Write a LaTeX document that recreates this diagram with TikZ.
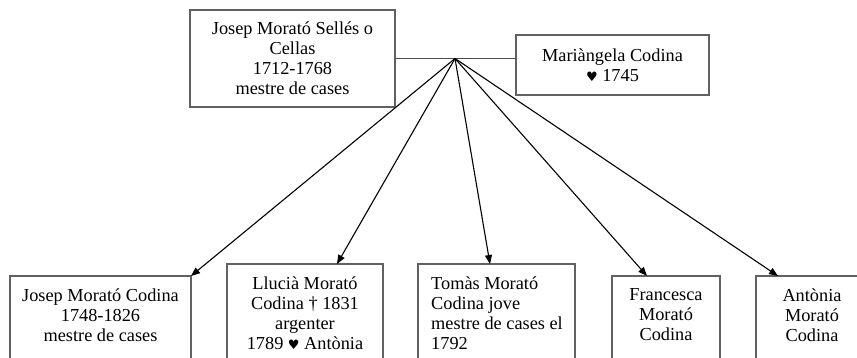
\documentclass[tikz,border=0pt]{standalone}
\usepackage{fontspec}
\setmainfont{Liberation Serif}
\newfontfamily\heartfont{DejaVu Sans}
\usetikzlibrary{arrows.meta}
\newcommand{\hrt}{{\heartfont\fontsize{13}{13}\selectfont ♥}}
\begin{document}
\begin{tikzpicture}[x=1pt,y=-1pt,
  person/.style={draw=black!62, line width=1.5pt, inner sep=0pt, outer sep=0pt,
    anchor=north west, align=center, font=\fontsize{18.3}{20}\selectfont},
  txt/.style={inner sep=0pt, anchor=north, align=center,
    font=\fontsize{18.3}{20}\selectfont},
  child/.style={-{Triangle[length=9pt,width=7pt]}, line width=1.1pt, black},
  tie/.style={line width=1.2pt, draw=black!70}
]
\useasboundingbox (0,0) rectangle (857,357);
\clip (0,0) rectangle (857,357);
\fill[white] (0,0) rectangle (857,357);

% parents
\node[person, minimum width=205pt, minimum height=97pt] (p) at (190,10)
  {Josep Morató Sellés o\\Cellas\\1712-1768\\mestre de cases};
\node[person, minimum width=193pt, minimum height=60pt] (r) at (516,35)
  {Mariàngela Codina\\\hrt\ 1745};

% marriage line and the point the children hang from
\draw[tie] (p.east) -- (p.east -| r.west);
\coordinate (j) at (455,58.5);

% children boxes (they run past the lower edge)
\node[person, minimum width=181pt, minimum height=120pt] (b1) at (10,276) {};
\node[person, minimum width=156pt, minimum height=130pt] (b2) at (227,264) {};
\node[person, minimum width=157pt, minimum height=130pt] (b3) at (418,264) {};
\node[person, minimum width=108pt, minimum height=120pt] (b4) at (612,276) {};
\node[person, minimum width=112pt, minimum height=120pt] (b5) at (756,276) {};

% children texts
\node[txt] (t1) at ([yshift=-12.5pt]b1.north)
  {Josep Morató Codina\\1748-1826\\mestre de cases};
\node[txt] (t2) at ([yshift=-12.5pt]b2.north)
  {Llucià Morató\\Codina † 1831\\argenter\\1789 \hrt\ Antònia};
\node[txt, anchor=north west, align=left] (t3) at ([xshift=13pt,yshift=-12.5pt]b3.north west)
  {Tomàs Morató\\Codina jove\\mestre de cases el\\1792};
\node[txt] (t4) at ([yshift=-12.5pt]b4.north)
  {Francesca\\Morató\\Codina};
\node[txt] (t5) at ([yshift=-12.5pt]b5.north)
  {Antònia\\Morató\\Codina};

% descent arrows
\draw[child] (j) -- (b1.north east);
\draw[child] (j) -- ([xshift=110pt]b2.north west);
\draw[child] (j) -- ([xshift=72pt]b3.north west);
\draw[child] (j) -- ([xshift=35pt]b4.north west);
\draw[child] (j) -- ([xshift=22pt]b5.north west);
\end{tikzpicture}
\end{document}
